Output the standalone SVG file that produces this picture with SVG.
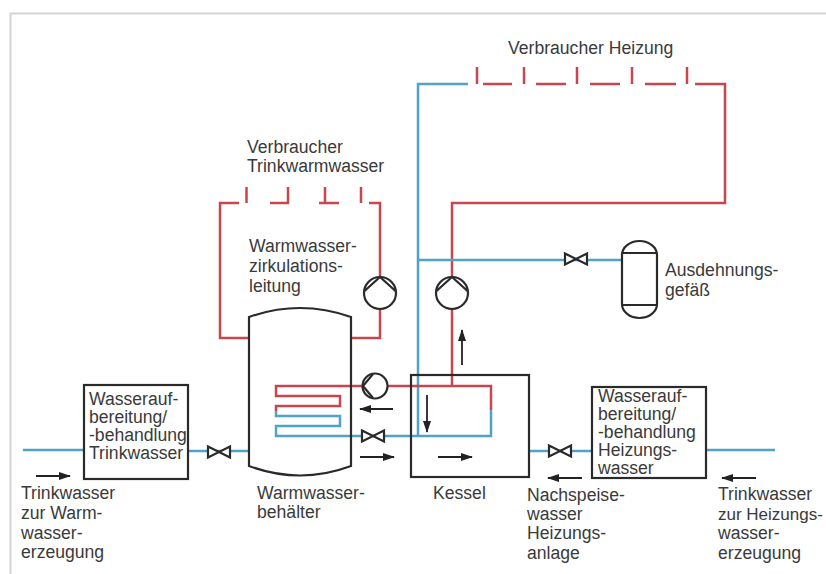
<svg xmlns="http://www.w3.org/2000/svg" width="826" height="574" viewBox="0 0 826 574">
<style>
text{font-family:"Liberation Sans",Arial,sans-serif;font-size:17.600px;fill:#3a3a3a}
.b{fill:none;stroke:#4fa3c7;stroke-width:2.500}
.r{fill:none;stroke:#c8474f;stroke-width:2.500}
.k{fill:#fff;stroke:#2a2a2a;stroke-width:2.200}
.n{fill:none;stroke:#2a2a2a;stroke-width:2.200}
.a{fill:none;stroke:#222;stroke-width:1.800;marker-end:url(#ah)}
</style>
<defs>
<marker id="ah" markerUnits="userSpaceOnUse" markerWidth="12" markerHeight="8" refX="11" refY="4" orient="auto"><path d="M0 0L12 4L0 8Z" fill="#222"/></marker>
<g id="valve"><path d="M-11-5.500L11 5.500V-5.500L-11 5.500Z" fill="#fff" stroke="#2a2a2a" stroke-width="2.200"/></g>
<g id="pump"><circle r="16" class="k"/><path d="M-15.500-2L0-16L15.500-2" class="n" stroke-width="1.500"/></g>
</defs>
<rect width="826" height="574" fill="#fff"/>
<path d="M10.500 574V13.500H826" fill="none" stroke="#d4d4d4" stroke-width="2"/>
<g id="connectors">
<path class="r" d="M249 338H220V203H239M246.500 187V203M270 203H288V187M319 203H339M325 187V203M361 187V203M369 203H380V277M380 309V338H351"/>
<path class="r" d="M477 67V84M483 84H512M524 67V84M536 84H566M577 67V84M590 84H620M632 67V84M645 84H676M687 67V84M695 84H725V203H452V277M452 309V386"/>
<path class="b" d="M468 84H418V436M418 260H622"/>
<path class="r" d="M491 410V386H276V396H340V406H276V411"/>
<path class="b" d="M276 411V416H340V426H276V436H491V410"/>
<path class="b" d="M23 450H85M188 451H249M529 451H592M706 450H775"/>
<path class="a" d="M36 476H70"/><path class="a" d="M393 409H360"/><path class="a" d="M360 457H394"/><path class="a" d="M438 457H472"/><path class="a" d="M427 395V432"/><path class="a" d="M462 365V330"/><path class="a" d="M582 478H548"/><path class="a" d="M756 478H722"/>
</g>
<g id="tank"><path d="M249 317Q300 299 351 317V466Q300 485 249 466Z" fill="none" stroke="#2a2a2a" stroke-width="2.200"/></g>
<g id="kessel"><rect x="411" y="375" width="118" height="102" fill="none" stroke="#2a2a2a" stroke-width="2.200"/></g>
<g id="pump1"><use href="#pump" x="380" y="293"/></g>
<g id="pump2"><use href="#pump" x="452" y="293"/></g>
<g id="pump3"><circle cx="375" cy="386" r="12.500" class="k"/><path d="M373 374L363 386L373 398" class="n" stroke-width="1.500"/></g>
<g id="valve1"><use href="#valve" x="219" y="452"/></g>
<g id="valve2"><use href="#valve" x="373" y="436"/></g>
<g id="valve3"><use href="#valve" x="560" y="451"/></g>
<g id="valve4"><use href="#valve" x="576" y="259"/></g>
<g id="vessel"><rect x="622" y="241" width="35" height="77" rx="17.500" ry="14" class="k"/><path d="M622 253H657M622 305H657" class="n"/><text x="665" y="276">Ausdehnungs-</text><text x="665" y="296">gefäß</text></g>
<g id="box1"><rect x="84" y="385" width="104" height="94" class="k"/><text x="89" y="405">Wasserauf-</text><text x="89" y="423">bereitung/</text><text x="89" y="441">-behandlung</text><text x="89" y="459">Trinkwasser</text></g>
<g id="box2"><rect x="592" y="387" width="114" height="91" class="k"/><text x="598" y="402">Wasserauf-</text><text x="598" y="420">bereitung/</text><text x="598" y="438">-behandlung</text><text x="598" y="456">Heizungs-</text><text x="598" y="474">wasser</text></g>
<g id="labels">
<text x="508" y="54">Verbraucher Heizung</text>
<text x="247" y="153">Verbraucher</text><text x="247" y="172">Trinkwarmwasser</text>
<text x="249" y="252">Warmwasser-</text><text x="249" y="272">zirkulations-</text><text x="249" y="292">leitung</text>
<text x="257" y="499">Warmwasser-</text><text x="257" y="518">behälter</text>
<text x="433" y="499">Kessel</text>
<text x="21" y="499">Trinkwasser</text><text x="21" y="519">zur Warm-</text><text x="21" y="539">wasser-</text><text x="21" y="558">erzeugung</text>
<text x="527" y="501">Nachspeise-</text><text x="527" y="520">wasser</text><text x="527" y="539">Heizungs-</text><text x="527" y="559">anlage</text>
<text x="718" y="500">Trinkwasser</text><text x="718" y="520" style="font-size:17px">zur Heizungs-</text><text x="718" y="539">wasser-</text><text x="718" y="559">erzeugung</text>
</g>
</svg>
